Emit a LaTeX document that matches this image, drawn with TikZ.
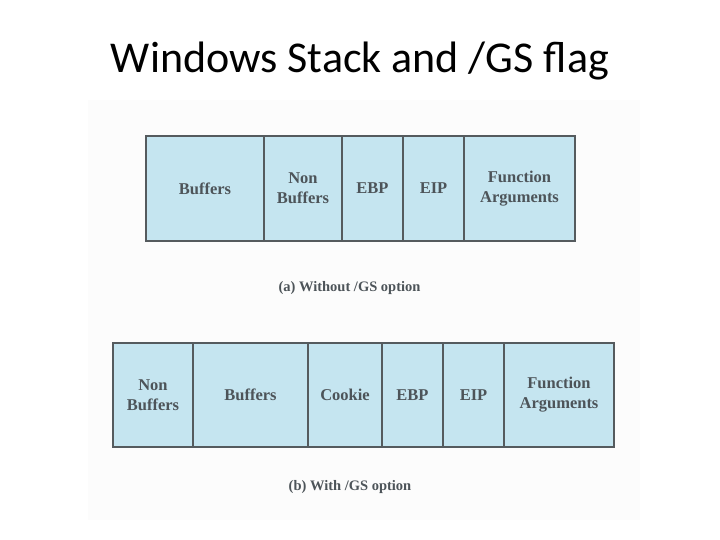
\documentclass[tikz,border=0pt]{standalone}
\usepackage{fontspec}
\setmainfont{Liberation Serif}
\newfontfamily\titlefont{Carlito}
\usetikzlibrary{positioning}
\definecolor{cellblue}{HTML}{C5E5F0}
\definecolor{cellline}{HTML}{555B5E}
\definecolor{celltext}{HTML}{4D5459}
\tikzset{
  cell/.style={draw=cellline, line width=2pt, fill=cellblue, outer sep=0pt,
    minimum height=105pt, inner sep=0pt, align=center, text=celltext,
    font=\fontsize{16.5}{20}\selectfont\bfseries},
  caption/.style={text=celltext, font=\fontsize{14.5}{16}\selectfont\bfseries}
}
\begin{document}
\begin{tikzpicture}[x=1pt, y=-1pt]
        \useasboundingbox (0,0) rectangle (720,540);
        % Faint backdrop of the figure
        \fill[black!1.2] (88,100) rectangle (640,520);

        % Title
        \node[anchor=base, font=\titlefont\fontsize{44}{50}\selectfont] (title) at (360,73) {Windows Stack and /GS flag};

        % (a) Stack without /GS
        \node[cell, minimum width=118pt, anchor=west] (bufA) at (146,188.5) {Buffers};
        \node[cell, minimum width=78pt, right=0pt of bufA] (nonbufA) {Non\\Buffers};
        \node[cell, minimum width=61pt, right=0pt of nonbufA] (ebpA) {EBP};
        \node[cell, minimum width=61pt, right=0pt of ebpA] (eipA) {EIP};
        \node[cell, minimum width=111pt, right=0pt of eipA] (argsA) {Function\\Arguments};
        \node[caption] (capA) at (349.5,288) {(a) Without /GS option};

        % (b) Stack with /GS
        \node[cell, minimum width=80pt, minimum height=104pt, anchor=west] (nonbufB) at (113,395) {Non\\Buffers};
        \node[cell, minimum width=115pt, minimum height=104pt, right=0pt of nonbufB] (bufB) {Buffers};
        \node[cell, minimum width=74pt, minimum height=104pt, right=0pt of bufB] (cookieB) {Cookie};
        \node[cell, minimum width=61pt, minimum height=104pt, right=0pt of cookieB] (ebpB) {EBP};
        \node[cell, minimum width=61pt, minimum height=104pt, right=0pt of ebpB] (eipB) {EIP};
        \node[cell, minimum width=110pt, minimum height=104pt, right=0pt of eipB] (argsB) {Function\\Arguments};
        \node[caption] (capB) at (350,487) {(b) With /GS option};
\end{tikzpicture}
\end{document}
